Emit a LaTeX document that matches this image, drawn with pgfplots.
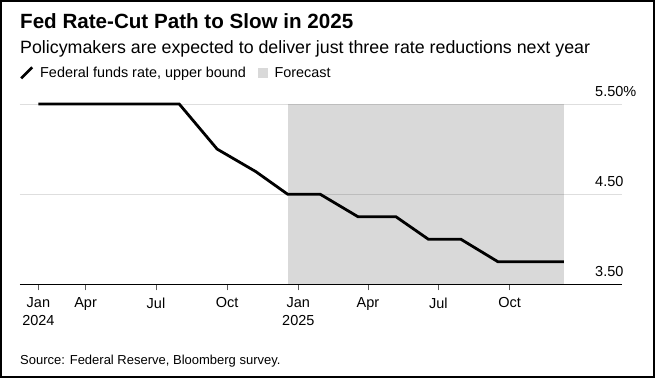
\documentclass[border=0pt]{standalone}
\usepackage{fontspec}
\setmainfont{Liberation Sans}
\usepackage{pgfplots}
\pgfplotsset{compat=1.18}
\definecolor{fcgray}{RGB}{217,217,217}
\definecolor{tickgray}{RGB}{90,90,90}

\begin{document}
\begin{tikzpicture}
\useasboundingbox (0pt,0pt) rectangle (655pt,-378pt);
\draw[line width=2pt] (1pt,-1pt) rectangle (654pt,-377pt);
\node[anchor=base west, inner sep=0pt, font=\fontsize{20.6}{24}\selectfont\bfseries] at (20pt,-28.3pt) {Fed Rate-Cut Path to Slow in 2025};
\node[anchor=base west, inner sep=0pt, font=\fontsize{17.8}{21}\selectfont] at (20pt,-53.3pt) {Policymakers are expected to deliver just three rate reductions next year};
% legend
\draw[line width=2.8pt] (21.2pt,-78.3pt) -- (32.2pt,-67.3pt);
\node[anchor=base west, inner sep=0pt, font=\fontsize{14.4}{17}\selectfont] at (40pt,-77.7pt) {Federal funds rate, upper bound};
\fill[fcgray] (258.3pt,-77.7pt) rectangle (268.3pt,-67.7pt);
\node[anchor=base west, inner sep=0pt, font=\fontsize{14.4}{17}\selectfont] at (274.3pt,-77.7pt) {Forecast};
% source
\node[anchor=base west, inner sep=0pt, font=\fontsize{13}{16}\selectfont] at (20pt,-364pt) {Source: Federal Reserve, Bloomberg survey.};

\begin{axis}[
  at={(20pt,-284.3pt)}, anchor=south west,
  scale only axis, width=602pt, height=180.3pt,
  xmin=6.2, xmax=784.3, ymin=3.5, ymax=5.5,
  clip=false,
  axis x line*=bottom, axis y line*=right,
  y axis line style={draw=none},
  x axis line style={line width=1pt, black},
  xtick={30,91,182,274,366,456,547,639},
  xticklabels={{Jan\\2024},Apr,Jul,Oct,{Jan\\2025},Apr,Jul,Oct},
  xtick align=outside, ytick align=inside,
  major tick length=6pt,
  xtick style={draw=tickgray, line width=0.8pt},
  ytick style={draw=none},
  xticklabel style={align=center, anchor=north, inner sep=0pt, yshift=-7pt, font=\fontsize{14.5}{18.5}\selectfont},
  ytick={3.5,4.5,5.5},
  yticklabels={3.50,4.50,5.50\%},
  yticklabel pos=right,
  yticklabel style={anchor=base west, inner sep=0pt, xshift=-27pt, yshift=8pt, font=\fontsize{14.5}{17}\selectfont},
  /pgf/number format/assume math mode=true,
  ymajorgrids=true,
  major grid style={black, opacity=0.13, line width=0.8pt},
]
\addplot[fill=black, fill opacity=0.149, draw=none] coordinates {(352,3.5) (709,3.5) (709,5.5) (352,5.5)} -- cycle;
\addplot[black, line width=2.8pt, line join=miter] coordinates {
(30,5.5) (212,5.5) (261,5.0) (311,4.75) (352,4.5) (394,4.5) (443,4.25) (492,4.25) (534,4.0) (576,4.0) (624,3.75) (709,3.75)};
\end{axis}
\end{tikzpicture}
\end{document}
